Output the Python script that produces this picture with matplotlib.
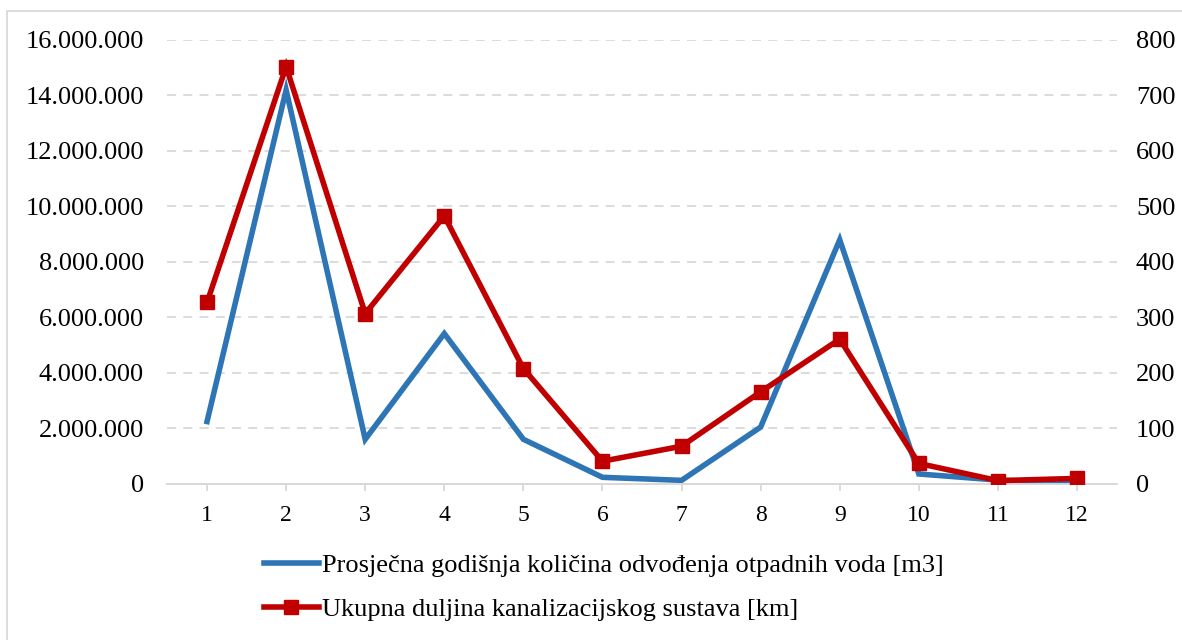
import matplotlib.pyplot as plt
from matplotlib.patches import Rectangle
from matplotlib.ticker import FuncFormatter

plt.rcParams['font.family'] = ['Liberation Serif', 'DejaVu Serif']

# podaci
kategorije = [1, 2, 3, 4, 5, 6, 7, 8, 9, 10, 11, 12]
kolicina_m3 = [2250000, 14200000, 1610000, 5420000, 1610000, 240000,
               130000, 2050000, 8800000, 360000, 140000, 20000]
duljina_km = [327, 752, 307, 483, 208, 41, 68, 166, 261, 37, 6, 10]
naziv_plava = "Prosječna godišnja količina odvođenja otpadnih voda [m3]"
naziv_crvena = "Ukupna duljina kanalizacijskog sustava [km]"

fig = plt.figure(figsize=(11.82, 6.4), dpi=100)
ax = fig.add_axes([0.1417, 0.2438, 0.8029, 0.6937])
ax2 = ax.twinx()

l1, = ax.plot(kategorije, kolicina_m3, color="#2e75b6", linewidth=4,
              solid_joinstyle="miter", label=naziv_plava, zorder=3)
l2, = ax2.plot(kategorije, duljina_km, color="#c00000", linewidth=4,
               marker="s", markersize=10, solid_joinstyle="miter",
               label=naziv_crvena, zorder=3)

ax.set_xlim(0.5, 12.5)
ax.set_ylim(0, 16000000)
ax2.set_ylim(0, 800)
ax.set_yticks(range(0, 16000001, 2000000))
ax2.set_yticks(range(0, 801, 100))
ax.set_xticks(kategorije)
ax.yaxis.set_major_formatter(FuncFormatter(lambda v, p: f"{int(v):,}".replace(",", ".")))

# mreža
ax.grid(axis="y", color="#d9d9d9", linestyle=(0, (5, 4)), linewidth=1.3)
ax.set_axisbelow(True)

for a in (ax, ax2):
    for s in ("top", "left", "right"):
        a.spines[s].set_visible(False)
    a.spines["bottom"].set_color("#d9d9d9")
    a.spines["bottom"].set_linewidth(1.3)

ax.tick_params(axis="y", length=0, pad=17, labelsize=19)
ax2.tick_params(axis="y", length=0, pad=14, labelsize=19)
ax.tick_params(axis="x", length=5, color="#d9d9d9", width=1.3, pad=10, labelsize=17)

# legenda ispod grafa
fig.legend(handles=[l1, l2], loc="upper left", bbox_to_anchor=(0.214, 0.152),
           frameon=False, fontsize=19, handlelength=2.1, handletextpad=0.1,
           labelspacing=0.8, borderaxespad=0)

# okvir oko slike
fig.patches.append(Rectangle((0.006, -0.01), 1.01, 0.993, transform=fig.transFigure,
                             fill=False, edgecolor="#d9d9d9", linewidth=1.3))

plt.savefig("out.png", dpi=100)
